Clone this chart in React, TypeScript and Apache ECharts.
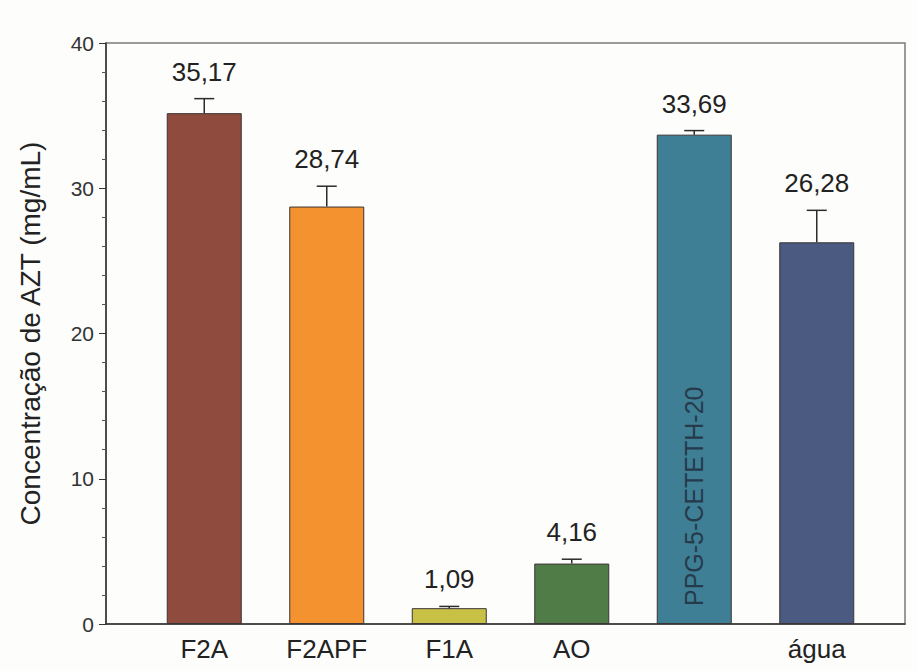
import React, { useEffect, useRef } from "react";
import * as echarts from "echarts";

// Formulation categories and measured AZT concentrations (mg/mL)
const categories = ["F2A", "F2APF", "F1A", "AO", "PPG-5-CETETH-20", "água"];
const axisLabels = ["F2A", "F2APF", "F1A", "AO", "", "água"];
const concentrations = [35.17, 28.74, 1.09, 4.16, 33.69, 26.28];
const errors = [1.0, 1.4, 0.12, 0.3, 0.28, 2.2];
const barColors = ["#8f4b3d", "#f3922e", "#c9c146", "#507c47", "#3f7f95", "#4b5a80"];
const yTicks = [0, 10, 20, 30, 40];

const fmt = (v: number) => v.toFixed(2).replace(".", ",");

export default function App() {
  const ref = useRef<HTMLDivElement>(null);

  useEffect(() => {
    if (!ref.current) return;
    const chart = echarts.init(ref.current, undefined, { renderer: "svg" });
    const font = "Liberation Sans, Arial, sans-serif";

    chart.setOption({
      animation: false,
      backgroundColor: "#fdfdfb",
      grid: [
        // frame with the value axis
        { left: 106, right: 12, top: 43, bottom: 47, show: true, borderColor: "#7a7a7a", borderWidth: 1.5, backgroundColor: "transparent" },
        // bars
        { left: 143, right: 39, top: 43, bottom: 47 },
      ],
      xAxis: [
        {
          gridIndex: 0,
          type: "value",
          min: 0,
          max: 1,
          axisLine: { show: true, onZero: false, lineStyle: { color: "#333", width: 1.5 } },
          axisTick: { show: false },
          axisLabel: { show: false },
          splitLine: { show: false },
        },
        {
          gridIndex: 1,
          type: "category",
          data: categories,
          axisLine: { show: false },
          axisTick: { show: false },
          axisLabel: {
            color: "#222",
            fontFamily: font,
            fontSize: 26,
            margin: 12,
            formatter: (_: string, i: number) => axisLabels[i],
          },
        },
      ],
      yAxis: [
        {
          gridIndex: 0,
          type: "value",
          min: yTicks[0],
          max: yTicks[yTicks.length - 1],
          interval: 10,
          name: "Concentração de AZT (mg/mL)",
          nameLocation: "middle",
          nameGap: 62,
          nameTextStyle: { color: "#222", fontFamily: font, fontSize: 28 },
          axisLine: { show: true, lineStyle: { color: "#333", width: 1.5 } },
          axisTick: { show: true, inside: false, length: 7, lineStyle: { color: "#333" } },
          minorTick: { show: true, splitNumber: 5, length: 4, lineStyle: { color: "#555" } },
          axisLabel: { color: "#333", fontFamily: font, fontSize: 21, margin: 12 },
          splitLine: { show: false },
        },
        {
          gridIndex: 1,
          type: "value",
          min: yTicks[0],
          max: yTicks[yTicks.length - 1],
          show: false,
        },
      ],
      series: [
        {
          type: "bar",
          xAxisIndex: 1,
          yAxisIndex: 1,
          barWidth: 75,
          data: concentrations.map((v, i) => ({
            value: v,
            itemStyle: { color: barColors[i], borderColor: "#3b3535", borderWidth: 1 },
          })),
          label: {
            show: true,
            position: "insideBottom",
            rotate: 90,
            align: "left",
            verticalAlign: "middle",
            distance: 18,
            color: "#253a4a",
            fontFamily: font,
            fontSize: 25,
            formatter: (p: any) => (p.dataIndex === 4 ? "PPG-5-CETETH-20" : ""),
          },
        },
        {
          type: "custom",
          xAxisIndex: 1,
          yAxisIndex: 1,
          data: concentrations.map((v, i) => [i, v, errors[i]]),
          renderItem: (params: any, api: any) => {
            const x = api.value(0);
            const v = api.value(1);
            const e = api.value(2);
            const base = api.coord([x, v]);
            const top = api.coord([x, v + e]);
            const half = 10;
            const stroke = { stroke: "#2b2b2b", lineWidth: 1.5 };
            return {
              type: "group",
              children: [
                { type: "line", shape: { x1: base[0], y1: base[1], x2: top[0], y2: top[1] }, style: stroke },
                { type: "line", shape: { x1: top[0] - half, y1: top[1], x2: top[0] + half, y2: top[1] }, style: stroke },
                {
                  type: "text",
                  x: top[0],
                  y: top[1] - 14,
                  style: {
                    text: fmt(v),
                    fill: "#222",
                    font: `26px ${font}`,
                    align: "center",
                    verticalAlign: "bottom",
                  },
                },
              ],
            };
          },
          z: 5,
        },
      ],
    });

    return () => chart.dispose();
  }, []);

  return (
    <div
      ref={ref}
      style={{ position: "fixed", left: 0, top: 0, width: 917, height: 671 }}
    />
  );
}
